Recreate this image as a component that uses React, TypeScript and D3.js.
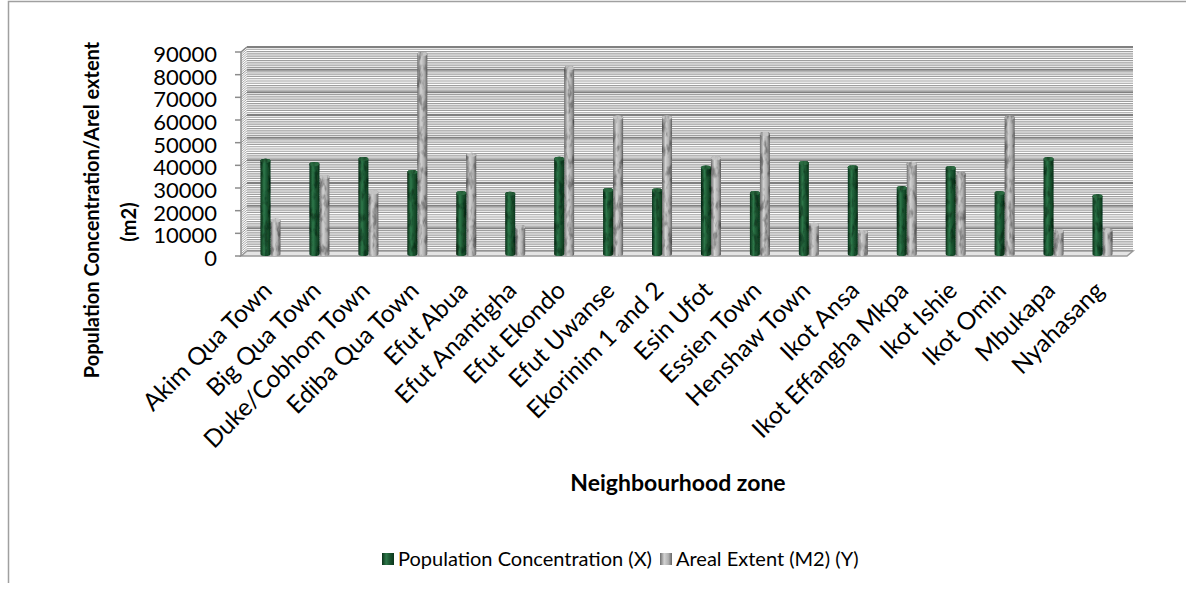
import { useEffect, useRef } from "react";
import * as d3 from "d3";

const categories = [
  "Akim Qua Town",
  "Big Qua Town",
  "Duke/Cobhom Town",
  "Ediba Qua Town",
  "Efut Abua",
  "Efut Anantigha",
  "Efut Ekondo",
  "Efut Uwanse",
  "Ekorinim 1 and 2",
  "Esin Ufot",
  "Essien Town",
  "Henshaw Town",
  "Ikot Ansa",
  "Ikot Effangha Mkpa",
  "Ikot Ishie",
  "Ikot Omin",
  "Mbukapa",
  "Nyahasang",
];

const population = [
  42900, 41500, 43700, 37900, 28700, 28400, 43800, 30000, 29900, 39900, 28700,
  41900, 40000, 30900, 39700, 28700, 43700, 27200,
];

const arealExtent = [
  16500, 35700, 29000, 90000, 45600, 13700, 83800, 62000, 62000, 44100, 54700,
  14700, 11500, 41600, 37200, 62000, 11800, 12200,
];

const yTicks = [0, 10000, 20000, 30000, 40000, 50000, 60000, 70000, 80000, 90000];
const seriesNames = ["Population Concentration (X)", "Areal Extent (M2) (Y)"];

const FONT = "Lato, 'Open Sans', sans-serif";

// cylinder outline: straight sides, elliptical bottom and top
function cylinder(cx: number, w: number, yTop: number, yBot: number, ry: number) {
  const l = cx - w / 2;
  const r = cx + w / 2;
  return `M${l},${yTop} L${l},${yBot} A${w / 2},${ry} 0 0 0 ${r},${yBot} L${r},${yTop} A${w / 2},${ry} 0 0 0 ${l},${yTop} Z`;
}

export default function App() {
  const svgRef = useRef<SVGSVGElement>(null);

  useEffect(() => {
    if (!svgRef.current) return;
    const svg = d3.select(svgRef.current);
    svg.selectAll("*").remove();

    // 3D box geometry
    const x0 = 241;
    const x1 = 1127;
    const dx = 6;
    const dy = -5;

    const y = d3.scaleLinear().domain([0, 90000]).range([256, 52]);
    const x = d3.scaleBand().domain(categories).range([243, 1124]);

    const defs = svg.append("defs");

    const green = defs.append("linearGradient").attr("id", "greenCyl");
    [
      [0, "#0a3119"],
      [0.35, "#2e784a"],
      [0.6, "#1d5a34"],
      [1, "#0b361c"],
    ].forEach(([o, c]) => green.append("stop").attr("offset", o as number).attr("stop-color", c as string));

    const gray = defs.append("linearGradient").attr("id", "grayCyl");
    [
      [0, "#6e6e6e"],
      [0.35, "#d2d2d2"],
      [0.7, "#b0b0b0"],
      [1, "#666666"],
    ].forEach(([o, c]) => gray.append("stop").attr("offset", o as number).attr("stop-color", c as string));

    // marble-ish speckle
    const marble = defs.append("filter").attr("id", "marble");
    marble
      .append("feTurbulence")
      .attr("type", "fractalNoise")
      .attr("baseFrequency", "0.22 0.09")
      .attr("numOctaves", 3)
      .attr("seed", 4)
      .attr("result", "noise");
    marble
      .append("feColorMatrix")
      .attr("in", "noise")
      .attr("type", "matrix")
      .attr("values", "0 0 0 0 0  0 0 0 0 0  0 0 0 0 0  -3.5 0 0 0 1.9")
      .attr("result", "spots");
    marble
      .append("feComposite")
      .attr("in", "spots")
      .attr("in2", "SourceAlpha")
      .attr("operator", "in")
      .attr("result", "clip");
    const ct = marble.append("feComponentTransfer").attr("in", "clip").attr("result", "soft");
    ct.append("feFuncA").attr("type", "linear").attr("slope", 0.55);
    const merge = marble.append("feMerge");
    merge.append("feMergeNode").attr("in", "SourceGraphic");
    merge.append("feMergeNode").attr("in", "soft");

    // chart frame (only top and left edges are in the crop)
    svg
      .append("path")
      .attr("d", "M8.5,583 L8.5,1.5 L1186,1.5")
      .attr("fill", "none")
      .attr("stroke", "#a0a0a0")
      .attr("stroke-width", 1.5);

    // back wall
    svg
      .append("rect")
      .attr("x", x0 + dx)
      .attr("y", y(90000) + dy)
      .attr("width", x1 - x0)
      .attr("height", y(0) - y(90000))
      .attr("fill", "#fff");

    const minor = d3.range(0, 90001, 1000);
    const grid = svg.append("g");
    grid
      .selectAll("line.minor")
      .data(minor.filter((v) => v % 10000 !== 0))
      .join("line")
      .attr("x1", x0 + dx)
      .attr("x2", x1 + dx)
      .attr("y1", (d) => y(d) + dy)
      .attr("y2", (d) => y(d) + dy)
      .attr("stroke", "#9e9e9e")
      .attr("stroke-width", 1.2);
    // side wall hatch
    grid
      .selectAll("line.side")
      .data(minor)
      .join("line")
      .attr("x1", x0)
      .attr("x2", x0 + dx)
      .attr("y1", (d) => y(d))
      .attr("y2", (d) => y(d) + dy)
      .attr("stroke", (d) => (d % 10000 === 0 ? "#8c8c8c" : "#a8a8a8"))
      .attr("stroke-width", 1);
    grid
      .selectAll("line.major")
      .data(yTicks)
      .enter()
      .append("line")
      .attr("x1", x0 + dx)
      .attr("x2", x1 + dx)
      .attr("y1", (d) => y(d) + dy)
      .attr("y2", (d) => y(d) + dy)
      .attr("stroke", "#808080")
      .attr("stroke-width", 2);

    // floor
    svg
      .append("polygon")
      .attr(
        "points",
        `${x0},${y(0)} ${x1},${y(0)} ${x1 + dx},${y(0) + dy} ${x0 + dx},${y(0) + dy}`
      )
      .attr("fill", "#e4e4e4")
      .attr("stroke", "#9a9a9a")
      .attr("stroke-width", 1.5);

    // left axis + ticks
    svg
      .append("line")
      .attr("x1", x0)
      .attr("x2", x0)
      .attr("y1", y(0))
      .attr("y2", y(90000))
      .attr("stroke", "#8c8c8c")
      .attr("stroke-width", 1.5);
    svg
      .append("line")
      .attr("x1", x0)
      .attr("x2", x0 + dx)
      .attr("y1", y(90000))
      .attr("y2", y(90000) + dy)
      .attr("stroke", "#8c8c8c")
      .attr("stroke-width", 1.5);
    svg
      .selectAll("line.tick")
      .data(yTicks)
      .enter()
      .append("line")
      .attr("x1", x0 - 6)
      .attr("x2", x0)
      .attr("y1", (d) => y(d))
      .attr("y2", (d) => y(d))
      .attr("stroke", "#8c8c8c")
      .attr("stroke-width", 1.5);

    svg
      .selectAll("text.ytick")
      .data(yTicks)
      .enter()
      .append("text")
      .attr("x", 217)
      .attr("y", (d) => y(d) + 2)
      .attr("dy", "0.36em")
      .attr("text-anchor", "end")
      .attr("font-family", FONT)
      .attr("font-size", 22)
      .attr("fill", "#000")
      .text((d) => d);

    // bars
    const bw = 10;
    const ry = 2;
    const yBase = 254;
    const bars = svg.append("g");
    categories.forEach((cat, i) => {
      const c = (x(cat) ?? 0) + x.bandwidth() / 2;
      const pairs: [number, number, string][] = [
        [c + 8, arealExtent[i], "grayCyl"],
        [c - 2, population[i], "greenCyl"],
      ];
      pairs.forEach(([cx, v, fill]) => {
        const top = y(v) + ry;
        const g = bars.append("g").attr("filter", "url(#marble)");
        g.append("path")
          .attr("d", cylinder(cx, bw, top, yBase, ry))
          .attr("fill", `url(#${fill})`);
        g.append("ellipse")
          .attr("cx", cx)
          .attr("cy", top)
          .attr("rx", bw / 2)
          .attr("ry", ry)
          .attr("fill", fill === "greenCyl" ? "#2a6a40" : "#c4c4c4");
      });
    });

    // category labels
    svg
      .selectAll("text.xlab")
      .data(categories)
      .enter()
      .append("text")
      .attr("transform", (d) => `translate(${(x(d) ?? 0) + x.bandwidth() / 2 + 6},292) rotate(-45)`)
      .attr("text-anchor", "end")
      .attr("font-family", FONT)
      .attr("font-size", 24.5)
      .attr("fill", "#000")
      .text((d) => d);

    // axis titles
    svg
      .append("text")
      .attr("x", 678)
      .attr("y", 491)
      .attr("text-anchor", "middle")
      .attr("font-family", FONT)
      .attr("font-weight", "bold")
      .attr("font-size", 23)
      .text("Neighbourhood zone");

    svg
      .append("text")
      .attr("transform", "translate(99,210) rotate(-90)")
      .attr("text-anchor", "middle")
      .attr("font-family", FONT)
      .attr("font-weight", "bold")
      .attr("font-size", 20)
      .text("Population Concentration/Arel extent");
    svg
      .append("text")
      .attr("transform", "translate(136,222) rotate(-90)")
      .attr("text-anchor", "middle")
      .attr("font-family", FONT)
      .attr("font-weight", "bold")
      .attr("font-size", 20)
      .text("(m2)");

    // legend
    const legendX = [382, 660];
    const legend = svg
      .selectAll("g.leg")
      .data(seriesNames)
      .enter()
      .append("g")
      .attr("transform", (d, i) => `translate(${legendX[i]},553)`);
    legend
      .append("rect")
      .attr("width", 12)
      .attr("height", 12)
      .attr("fill", (d, i) => (i === 0 ? "url(#greenCyl)" : "url(#grayCyl)"));
    legend
      .append("text")
      .attr("x", 16)
      .attr("y", 13)
      .attr("font-family", FONT)
      .attr("font-size", 20)
      .attr("fill", "#000")
      .text((d) => d);
  }, []);

  return (
    <svg
      ref={svgRef}
      width={1186}
      height={590}
      style={{ position: "absolute", left: 0, top: 0, background: "#fff" }}
    />
  );
}
